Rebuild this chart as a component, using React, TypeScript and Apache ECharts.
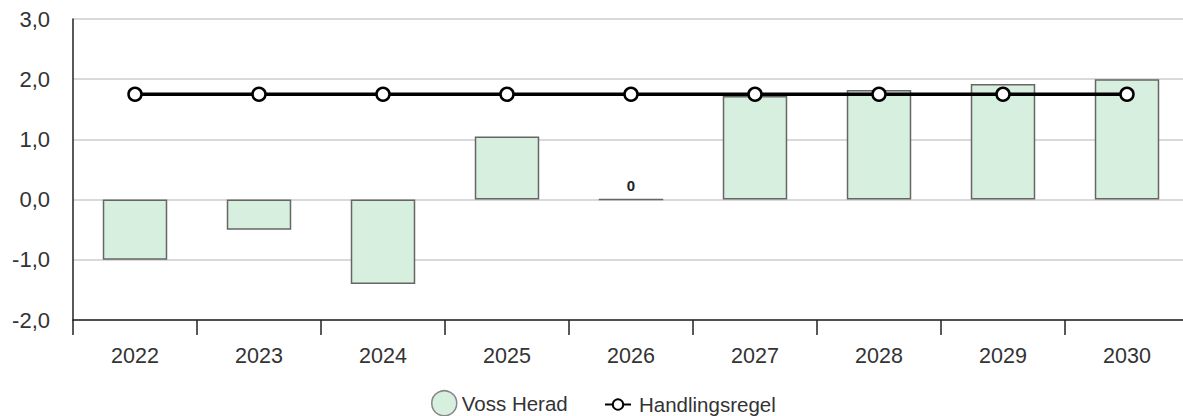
import React, { useEffect, useRef } from "react";
import * as echarts from "echarts";

const categories = ["2022", "2023", "2024", "2025", "2026", "2027", "2028", "2029", "2030"];
const vossHerad = [-1.0, -0.5, -1.4, 1.05, 0, 1.72, 1.82, 1.92, 2.0];
const handlingsregel = [1.75, 1.75, 1.75, 1.75, 1.75, 1.75, 1.75, 1.75, 1.75];

const FONT = "'Liberation Sans', Arial, sans-serif";

export default function App() {
  const ref = useRef<HTMLDivElement>(null);
  useEffect(() => {
    if (!ref.current) return;
    const chart = echarts.init(ref.current, undefined, { renderer: "svg" });
    chart.setOption({
      animation: false,
      textStyle: { fontFamily: FONT },
      grid: { left: 73, top: 19, width: 1116, height: 301 },
      legend: [
        {
          top: 385,
          left: 426,
          itemGap: 0,
          itemWidth: 25,
          itemHeight: 25,
          textStyle: { fontSize: 20.5, color: "#333", fontFamily: FONT },
          data: [
            { name: "Voss Herad", icon: "circle", itemStyle: { color: "#d6efdf", borderColor: "#888", borderWidth: 1.5 } },
          ],
        },
        {
          top: 389,
          left: 599,
          itemGap: 0,
          itemWidth: 26,
          itemHeight: 13,
          textStyle: { fontSize: 20.5, color: "#333", fontFamily: FONT, padding: [0, 0, 0, 3] },
          data: [{ name: "Handlingsregel" }],
        },
      ],
      xAxis: {
        type: "category",
        data: categories,
        axisLine: { onZero: false, lineStyle: { color: "#222", width: 1.5 } },
        axisTick: { show: true, length: 15, lineStyle: { color: "#222", width: 1.5 } },
        axisLabel: { fontSize: 21.5, color: "#333", margin: 25, fontFamily: FONT },
      },
      yAxis: {
        type: "value",
        min: -2,
        max: 3,
        interval: 1,
        axisLine: { show: true, lineStyle: { color: "#222", width: 1.5 } },
        axisTick: { show: false },
        splitLine: { lineStyle: { color: "#ccc", width: 1.5 } },
        axisLabel: {
          fontSize: 22,
          color: "#333",
          margin: 23,
          fontFamily: FONT,
          formatter: (v: number) => v.toFixed(1).replace(".", ","),
        },
      },
      series: [
        {
          name: "Voss Herad",
          type: "bar",
          barWidth: "52%",
          itemStyle: { color: "#d6efdf", borderColor: "#666", borderWidth: 1.5 },
          data: vossHerad.map((v) =>
            v === 0
              ? {
                  value: v,
                  label: {
                    show: true,
                    position: "top",
                    formatter: "0",
                    fontWeight: "bold",
                    fontSize: 15,
                    color: "#222",
                    distance: 6,
                  },
                }
              : v
          ),
        },
        {
          name: "Handlingsregel",
          type: "line",
          data: handlingsregel,
          symbol: "circle",
          symbolSize: 13,
          showAllSymbol: true,
          lineStyle: { color: "#000", width: 3.5 },
          itemStyle: { color: "#fff", borderColor: "#000", borderWidth: 2.5 },
          z: 3,
        },
      ],
    });
    return () => chart.dispose();
  }, []);
  return (
    <div
      ref={ref}
      style={{ position: "absolute", left: 0, top: 0, width: 1200, height: 416 }}
    />
  );
}
